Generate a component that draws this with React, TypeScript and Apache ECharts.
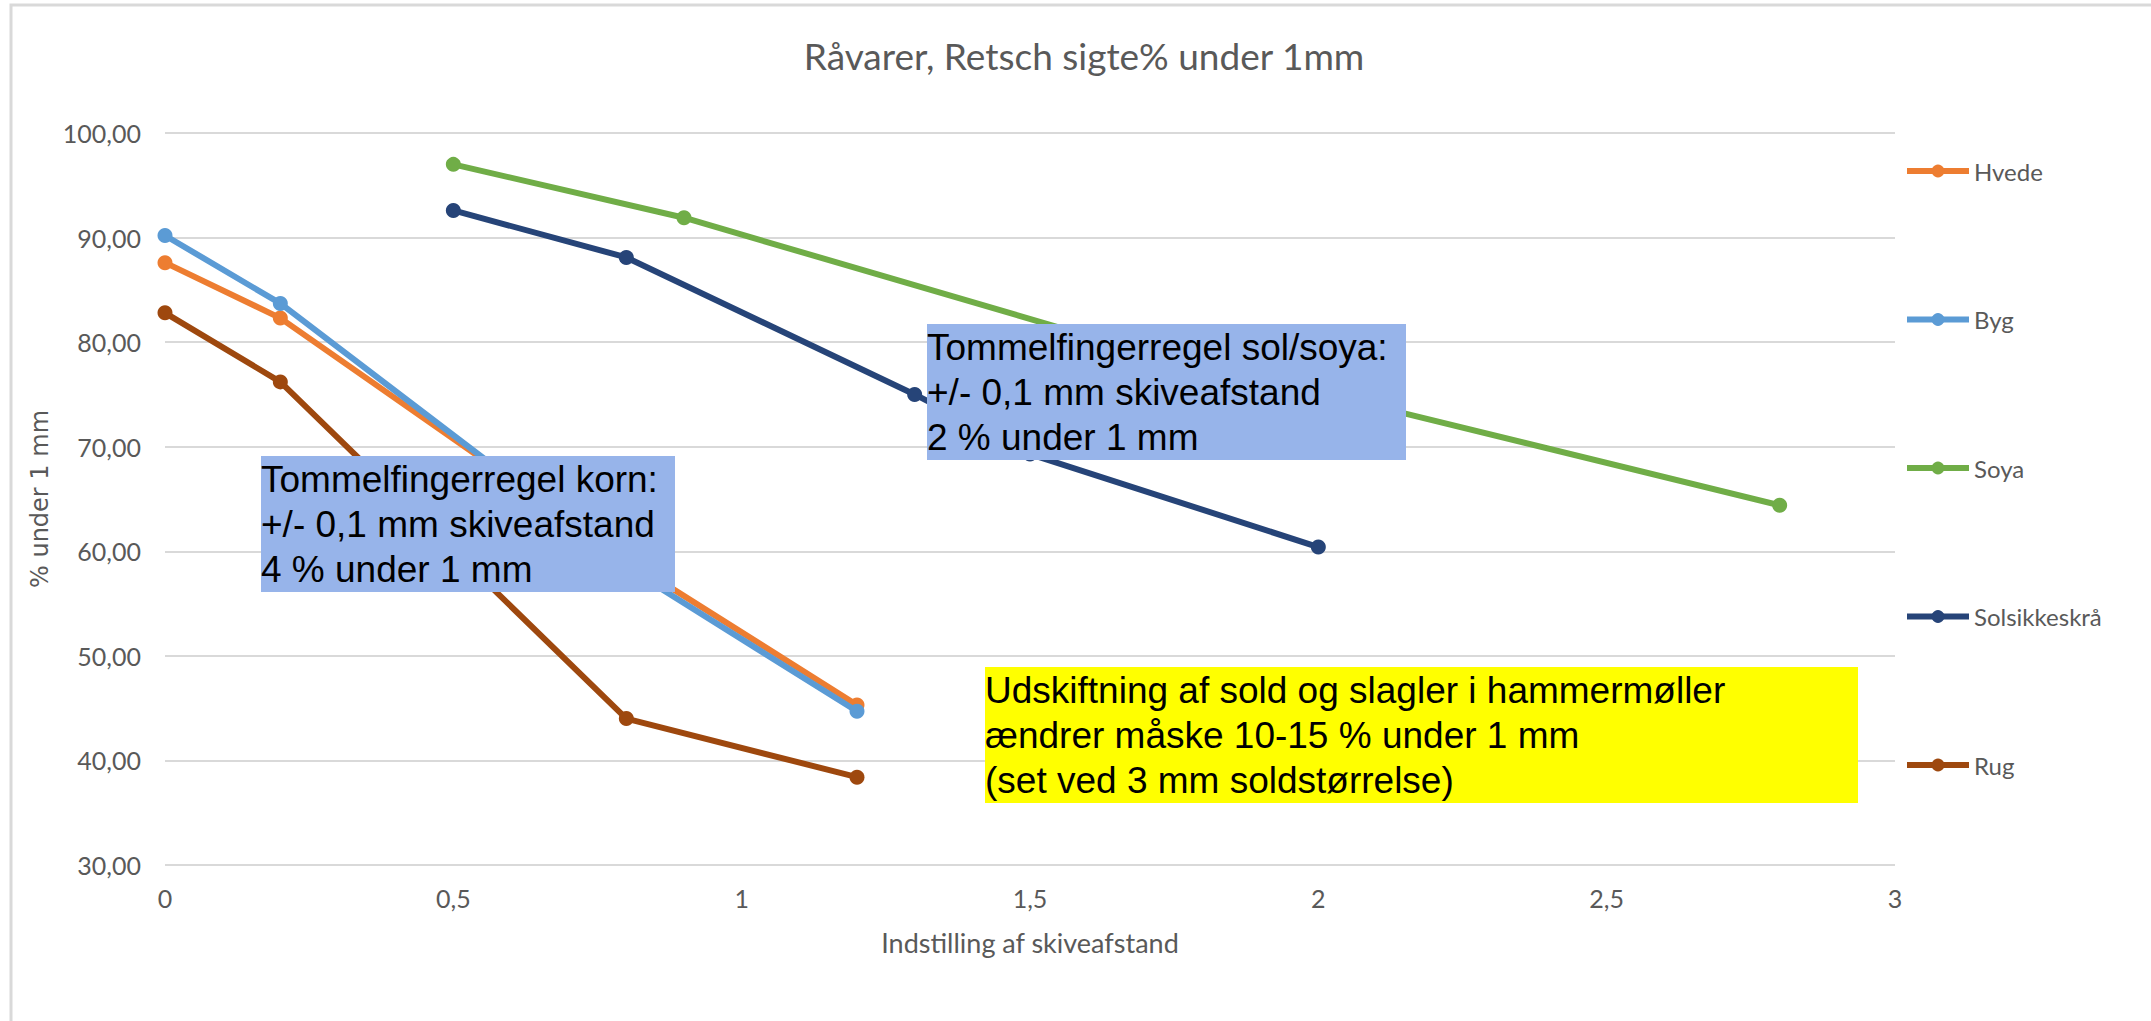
import React, { useEffect, useRef } from "react";
import * as echarts from "echarts";

// ---- Data ----
const seriesNames = ["Hvede", "Byg", "Soya", "Solsikkeskrå", "Rug"];
const seriesColors = ["#ED7D31", "#5B9BD5", "#70AD47", "#264478", "#9E480E"];

const hvedeX = [0, 0.2, 0.8, 1.2];
const hvedeY = [87.6, 82.3, 59.2, 45.3];
const bygX = [0, 0.2, 0.8, 1.2];
const bygY = [90.2, 83.7, 58.5, 44.7];
const soyaX = [0.5, 0.9, 1.6, 2.8];
const soyaY = [97.0, 91.9, 80.6, 64.4];
const solsikkeX = [0.5, 0.8, 1.3, 1.5, 2.0];
const solsikkeY = [92.6, 88.1, 75.0, 69.3, 60.4];
const rugX = [0, 0.2, 0.8, 1.2];
const rugY = [82.8, 76.2, 44.0, 38.4];

const titleText = "Råvarer, Retsch sigte% under 1mm";
const xAxisName = "Indstilling af skiveafstand";
const yAxisName = "% under 1 mm";
const kornNote = ["Tommelfingerregel korn:", "+/- 0,1 mm skiveafstand", "4 % under 1 mm"];
const solNote = ["Tommelfingerregel sol/soya:", "+/- 0,1 mm skiveafstand", "2 % under 1 mm"];
const soldNote = [
  "Udskiftning af sold og slagler i hammermøller",
  "ændrer måske 10-15 % under 1 mm",
  "(set ved 3 mm soldstørrelse)",
];

const xValues = [hvedeX, bygX, soyaX, solsikkeX, rugX];
const yValues = [hvedeY, bygY, soyaY, solsikkeY, rugY];

const GRAY = "#595959";
const GRID = "#d9d9d9";

function noteBox(x: number, y: number, w: number, h: number, fill: string, lines: string[]) {
  return {
    type: "group",
    x,
    y,
    z: 100,
    children: [
      { type: "rect", z: 100, shape: { x: 0, y: 0, width: w, height: h }, style: { fill } },
      {
        type: "text",
        z: 101,
        x: 0,
        y: 1,
        style: {
          text: lines.join("\n"),
          fontSize: 37,
          fontFamily: "Liberation Sans",
          fill: "#000",
          lineHeight: 45,
          align: "left",
          verticalAlign: "top",
        },
      },
    ],
  };
}

export default function App() {
  const ref = useRef<HTMLDivElement>(null);
  useEffect(() => {
    document.body.style.margin = "0";
    document.body.style.overflow = "hidden";
    const chart = echarts.init(ref.current!, null, { renderer: "svg" });
    const option: any = {
      animation: false,
      backgroundColor: "#ffffff",
      grid: { left: 165, top: 133, width: 1730, height: 732, containLabel: false },
      xAxis: {
        type: "value",
        min: 0,
        max: 3,
        interval: 0.5,
        axisLine: { show: false },
        axisTick: { show: false },
        splitLine: { show: false },
        axisLabel: {
          margin: 20,
          fontSize: 25,
          fontFamily: "Lato",
          color: GRAY,
          formatter: (v: number) => String(v).replace(".", ","),
        },
        name: xAxisName,
        nameLocation: "middle",
        nameGap: 64,
        nameTextStyle: { fontSize: 27, fontFamily: "Lato", color: GRAY },
      },
      yAxis: {
        type: "value",
        min: 30,
        max: 100,
        interval: 10,
        axisLine: { show: false },
        axisTick: { show: false },
        splitLine: { show: true, lineStyle: { color: GRID, width: 2 } },
        axisLabel: {
          margin: 24,
          fontSize: 25,
          fontFamily: "Lato",
          color: GRAY,
          formatter: (v: number) => v.toFixed(2).replace(".", ","),
        },
        name: yAxisName,
        nameLocation: "middle",
        nameGap: 106,
        nameRotate: 90,
        nameTextStyle: { fontSize: 24, fontFamily: "DejaVu Sans", color: GRAY },
      },
      legend: seriesNames.map((name, i) => ({
        data: [name],
        orient: "vertical",
        left: 1899,
        top: 154 + i * 148.5,
        itemWidth: 62,
        itemHeight: 16,
        itemGap: 4,
        lineStyle: { width: 6 },
        textStyle: { fontSize: 24, fontFamily: "Lato", color: GRAY, lineHeight: 24 },
      })),
      series: seriesNames.map((name, i) => ({
        name,
        type: "line",
        data: xValues[i].map((x, j) => [x, yValues[i][j]]),
        symbol: "circle",
        symbolSize: 15,
        lineStyle: { width: 6, color: seriesColors[i] },
        itemStyle: { color: seriesColors[i] },
        z: 2 + i,
      })),
      graphic: [
        {
          type: "rect",
          z: -10,
          shape: { x: 11, y: 5, width: 2160, height: 1040 },
          style: { fill: "none", stroke: GRID, lineWidth: 3 },
        },
        {
          type: "text",
          x: 1084,
          y: 55,
          z: 50,
          style: {
            text: titleText,
            fontSize: 37,
            fontFamily: "Lato",
            fill: GRAY,
            align: "center",
            verticalAlign: "middle",
          },
        },
        noteBox(261, 456, 414, 136, "#97b4ea", kornNote),
        noteBox(927, 324, 479, 136, "#97b4ea", solNote),
        noteBox(985, 667, 873, 136, "#ffff00", soldNote),
      ],
    };
    chart.setOption(option);
    return () => chart.dispose();
  }, []);
  return <div ref={ref} style={{ width: 2151, height: 1021 }} />;
}
